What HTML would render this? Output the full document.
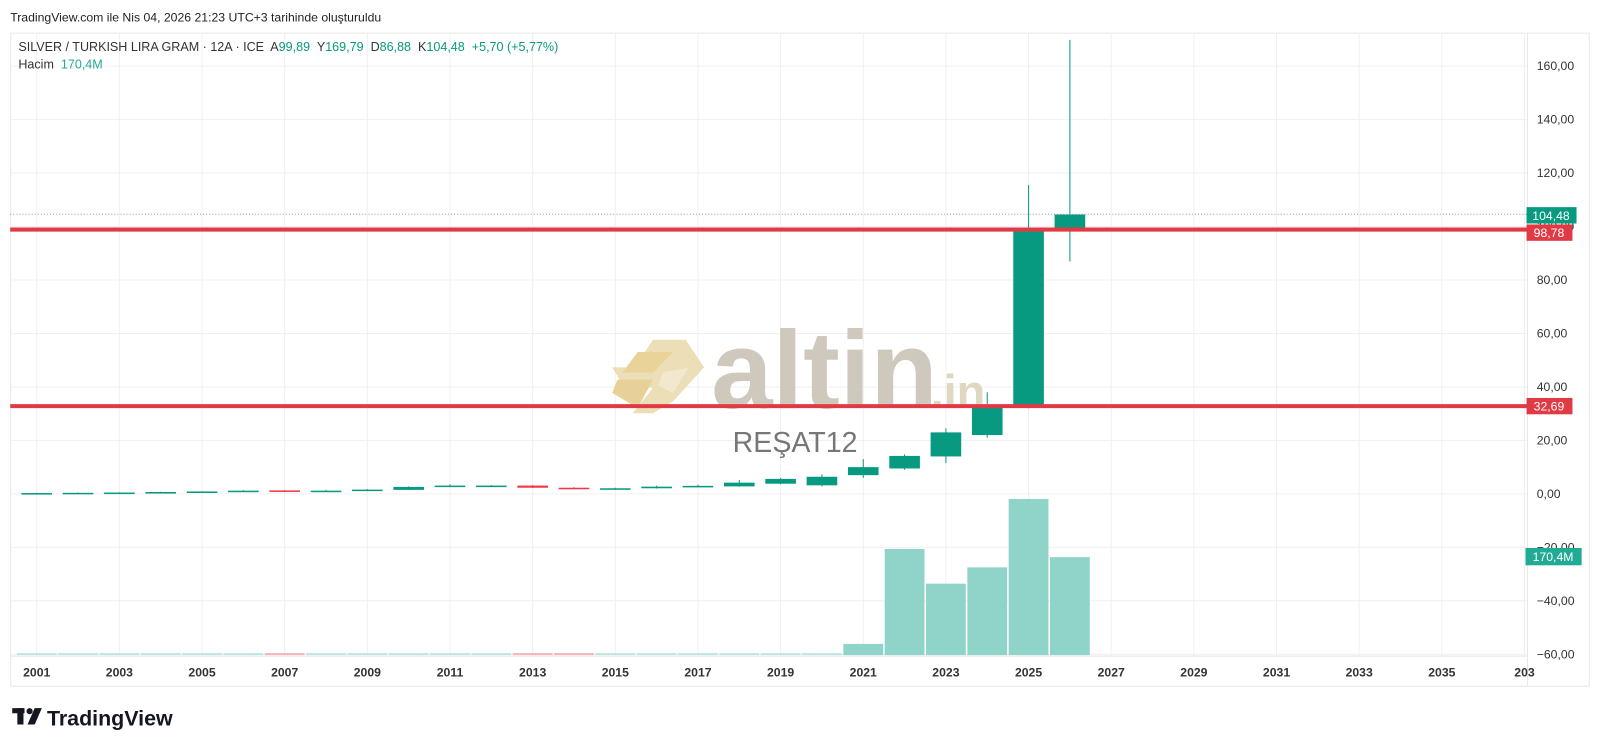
<!DOCTYPE html>
<html><head><meta charset="utf-8"><style>
body{margin:0;background:#fff;width:1600px;height:750px;overflow:hidden;font-family:"Liberation Sans",sans-serif}
</style></head><body>
<svg id="s" width="1600" height="750" viewBox="0 0 1568 735" preserveAspectRatio="none" xmlns="http://www.w3.org/2000/svg" font-family="Liberation Sans, sans-serif">
<rect width="1568" height="735" fill="#fff"/>
<text x="10" y="21" font-size="12" fill="#222">TradingView.com ile Nis 04, 2026 21:23 UTC+3 tarihinde oluşturuldu</text>
<rect x="10.5" y="32.5" width="1547" height="640" fill="none" stroke="#e8e8e8"/>
<g id="grid" stroke="#f0f0f0" stroke-width="1"></g>
<line x1="10" y1="210" x2="1497" y2="210" stroke="#999" stroke-dasharray="1,2"/>
<!-- watermark -->
<g opacity="0.9">
<polygon points="640,333 672,333 690,360 660,393 640,405 620,405 640,380 612,380 600,360 622,360" fill="#eadbb0"/>
<polygon points="625,345 660,345 640,365 610,365" fill="#e8cf8e"/>
<polygon points="605,372 640,372 625,400 600,385" fill="#e6cd8e"/>
<polygon points="650,365 675,360 660,385 645,378" fill="#f1e6c8"/>
<text x="697" y="400" font-size="108" font-weight="bold" fill="#c9c3b6">altin</text>
<text x="912" y="400" font-size="46" font-weight="bold" fill="#ddd3bb">.in</text>
</g>
<text x="718" y="443" font-size="28" fill="#777">REŞAT12</text>
<g id="c"></g>
<line x1="10" y1="225" x2="1497" y2="225" stroke="#e03a45" stroke-width="4"/>
<line x1="10" y1="398" x2="1497" y2="398" stroke="#e03a45" stroke-width="4"/>
<g id="ax" font-size="12" fill="#333"></g>
<rect x="1496" y="203" width="49" height="16" fill="#089981"/><text x="1520" y="215.5" font-size="12" fill="#fff" text-anchor="middle">104,48</text>
<rect x="1496" y="220" width="45" height="16" fill="#e03a45"/><text x="1518" y="232.5" font-size="12" fill="#fff" text-anchor="middle">98,78</text>
<rect x="1496" y="390" width="45" height="16" fill="#e03a45"/><text x="1518" y="402.5" font-size="12" fill="#fff" text-anchor="middle">32,69</text>
<rect x="1495" y="537" width="55" height="17" fill="#22ab94"/><text x="1522" y="550" font-size="12" fill="#fff" text-anchor="middle">170,4M</text>
<text x="18" y="50" font-size="12.3" fill="#333" xml:space="preserve">SILVER / TURKISH LIRA GRAM · 12A · ICE  A<tspan fill="#089981">99,89</tspan>  Y<tspan fill="#089981">169,79</tspan>  D<tspan fill="#089981">86,88</tspan>  K<tspan fill="#089981">104,48</tspan>  <tspan fill="#089981">+5,70 (+5,77%)</tspan></text>
<text x="18" y="67" font-size="12.3" fill="#333" xml:space="preserve">Hacim  <tspan fill="#22ab94">170,4M</tspan></text>
<g transform="translate(12,694)" fill="#131722"><rect x="0" y="0" width="12" height="5"/><rect x="5" y="0" width="6" height="16"/><circle cx="17" cy="3" r="3"/><polygon points="22,0 29,0 22,16 15,16"/></g>
<text x="46" y="711" font-size="21" font-weight="bold" fill="#131722">TradingView</text>
</svg>
<script>
const ns="http://www.w3.org/2000/svg";
function el(p,t,a,txt){const e=document.createElementNS(ns,t);for(const k in a)e.setAttribute(k,a[k]);if(txt)e.textContent=txt;p.appendChild(e);return e;}
const X=y=>36+(y-2001)*40.5, Y=v=>484-2.62*v;
const g=document.getElementById('grid'),ax=document.getElementById('ax'),c=document.getElementById('c');
for(let y=2001;y<=2037;y+=2){el(g,'line',{x1:X(y),y1:33,x2:X(y),y2:643});el(ax,'text',{x:X(y),y:663,'text-anchor':'middle','font-weight':'bold'},String(y).slice(0,y==2037?3:4));}
for(let v=-60;v<=160;v+=20){el(g,'line',{x1:10,y1:Y(v),x2:1497,y2:Y(v)});el(ax,'text',{x:1506,y:Y(v)+4},(v<0?'−':'')+Math.abs(v)+',00');}
el(g,'line',{x1:10,y1:643,x2:1497,y2:643,stroke:'#e0e3eb'});
el(g,'line',{x1:1497,y1:33,x2:1497,y2:672,stroke:'#e8e8e8'});
const vol={2021:631,2022:538,2023:572,2024:556,2025:489,2026:546};
for(let y=2001;y<=2020;y++)el(c,'rect',{x:X(y)-19.5,y:640,width:39,height:2,fill:(y==2007||y==2013||y==2014)?'#f7b5b9':'#bfe6df'});
for(const y in vol)el(c,'rect',{x:X(+y)-19.5,y:vol[y],width:39,height:642-vol[y],fill:'#8fd3c9'});
const d=[[2001,0.3,0.3,0.4,0.2],[2002,0.3,0.4,0.5,0.3],[2003,0.4,0.5,0.6,0.4],[2004,0.5,0.7,0.8,0.5],[2005,0.7,0.9,1,0.6],[2006,0.9,1.2,1.4,0.8],[2007,1.3,1.1,1.4,1],[2008,1.1,1.2,1.5,0.9],[2009,1.2,1.6,1.8,1.1],[2010,1.5,2.6,2.8,1.5],[2011,2.8,3.1,3.6,2.6],[2012,2.9,3.1,3.3,2.8],[2013,3.1,2.3,3.3,2.2],[2014,2.3,1.9,2.5,1.8],[2015,1.9,2.1,2.3,1.8],[2016,2.1,2.7,3.1,2],[2017,2.8,3.0,3.5,2.7],[2018,2.8,4.2,5.2,2.7],[2019,3.8,5.6,6,3.6],[2020,3.2,6.4,7.3,2.8],[2021,7.0,10.0,13,6],[2022,9.5,14.2,14.8,9],[2023,14,23,24.5,11.5],[2024,22,32.7,38,21],[2025,32.7,98.8,115.5,32],[2026,98.8,104.5,169.8,86.9]];
for(const [y,o,cl,h,l] of d){const col=cl>=o?'#089981':'#f23645';const x=X(y);
el(c,'line',{x1:x,y1:Y(h),x2:x,y2:Y(l),stroke:col});
const t=Y(Math.max(o,cl)),b=Y(Math.min(o,cl));el(c,'rect',{x:x-15,y:t,width:30,height:Math.max(b-t,1.5),fill:col});}
</script>
</body></html>
